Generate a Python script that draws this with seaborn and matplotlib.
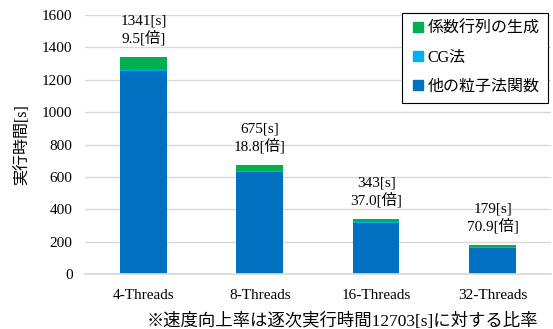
import numpy as np
import pandas as pd
import matplotlib
matplotlib.use("Agg")
import matplotlib.pyplot as plt
from matplotlib.lines import Line2D
import seaborn as sns

# データ
threads = ['4-Threads', '8-Threads', '16-Threads', '32-Threads']
sonota = [1256, 632, 318, 162]      # 他の粒子法関数
cg = [7, 5, 4, 3]                   # CG法
keisu = [78, 38, 21, 14]            # 係数行列の生成
total_s = [1341, 675, 343, 179]
speedup = [9.5, 18.8, 37.0, 70.9]
yticks = [0, 200, 400, 600, 800, 1000, 1200, 1400, 1600]

sns.set_theme(style="white")
# 英数字はセリフ体、日本語はNoto Sans CJK
plt.rcParams['font.family'] = ['Liberation Serif', 'Noto Sans CJK JP']

col_green = '#00B050'
col_cyan = '#00B0F0'
col_blue = '#0070C0'

df = pd.DataFrame({'threads': threads,
                   'blue': sonota,
                   'cyan': np.add(sonota, cg),
                   'green': np.add(np.add(sonota, cg), keisu)})

fig = plt.figure(figsize=(5.53, 3.29), dpi=100)
ax = fig.add_axes([0.154, 0.167, 0.842, 0.787])

# 積み上げ：合計から順に重ねる
for col, c in [('green', col_green), ('cyan', col_cyan), ('blue', col_blue)]:
    sns.barplot(data=df, x='threads', y=col, color=c, width=0.4,
                saturation=1, linewidth=0, ax=ax)

# 棒の上の注記
for i, (t, s) in enumerate(zip(total_s, speedup)):
    ax.annotate(f'{t}[s]\n{s:.1f}[倍]', xy=(i, t), xytext=(0, 8),
                textcoords='offset points', ha='center', va='bottom',
                fontsize=11, linespacing=1.2, color='black')

ax.set_ylim(0, 1600)
ax.set_yticks(yticks)
ax.set_xlim(-0.5, 3.5)
ax.yaxis.grid(True, color='#D9D9D9', linewidth=1)
ax.set_axisbelow(True)
for side in ['left', 'right', 'top']:
    ax.spines[side].set_visible(False)
ax.spines['bottom'].set_color('#D9D9D9')
ax.tick_params(axis='y', length=0, pad=9, labelsize=11, labelcolor='black')
ax.tick_params(axis='x', length=0, pad=11, labelsize=11, labelcolor='black')

ax.set_ylabel('実行時間[s]', fontsize=11.5, color='black')
ax.yaxis.set_label_coords(-0.118, 0.5)
ax.set_xlabel('※速度向上率は逐次実行時間12703[s]に対する比率',
              fontsize=12.5, color='black')
ax.xaxis.set_label_coords(0.553, -0.15)

handles = [Line2D([], [], marker='s', linestyle='', color=c, markersize=6.5)
           for c in [col_green, col_cyan, col_blue]]
leg = ax.legend(handles, ['係数行列の生成', 'CG法', '他の粒子法関数'],
                loc='upper right', bbox_to_anchor=(0.9936, 1.008),
                borderaxespad=0, prop={'size': 11.5}, frameon=True,
                fancybox=False, edgecolor='black', framealpha=1,
                handletextpad=0.1, handlelength=1.0, labelspacing=0.8,
                borderpad=0.5)
leg.get_frame().set_linewidth(0.8)
for t in leg.get_texts():
    t.set_color('black')

fig.savefig('out.png', dpi=100)
